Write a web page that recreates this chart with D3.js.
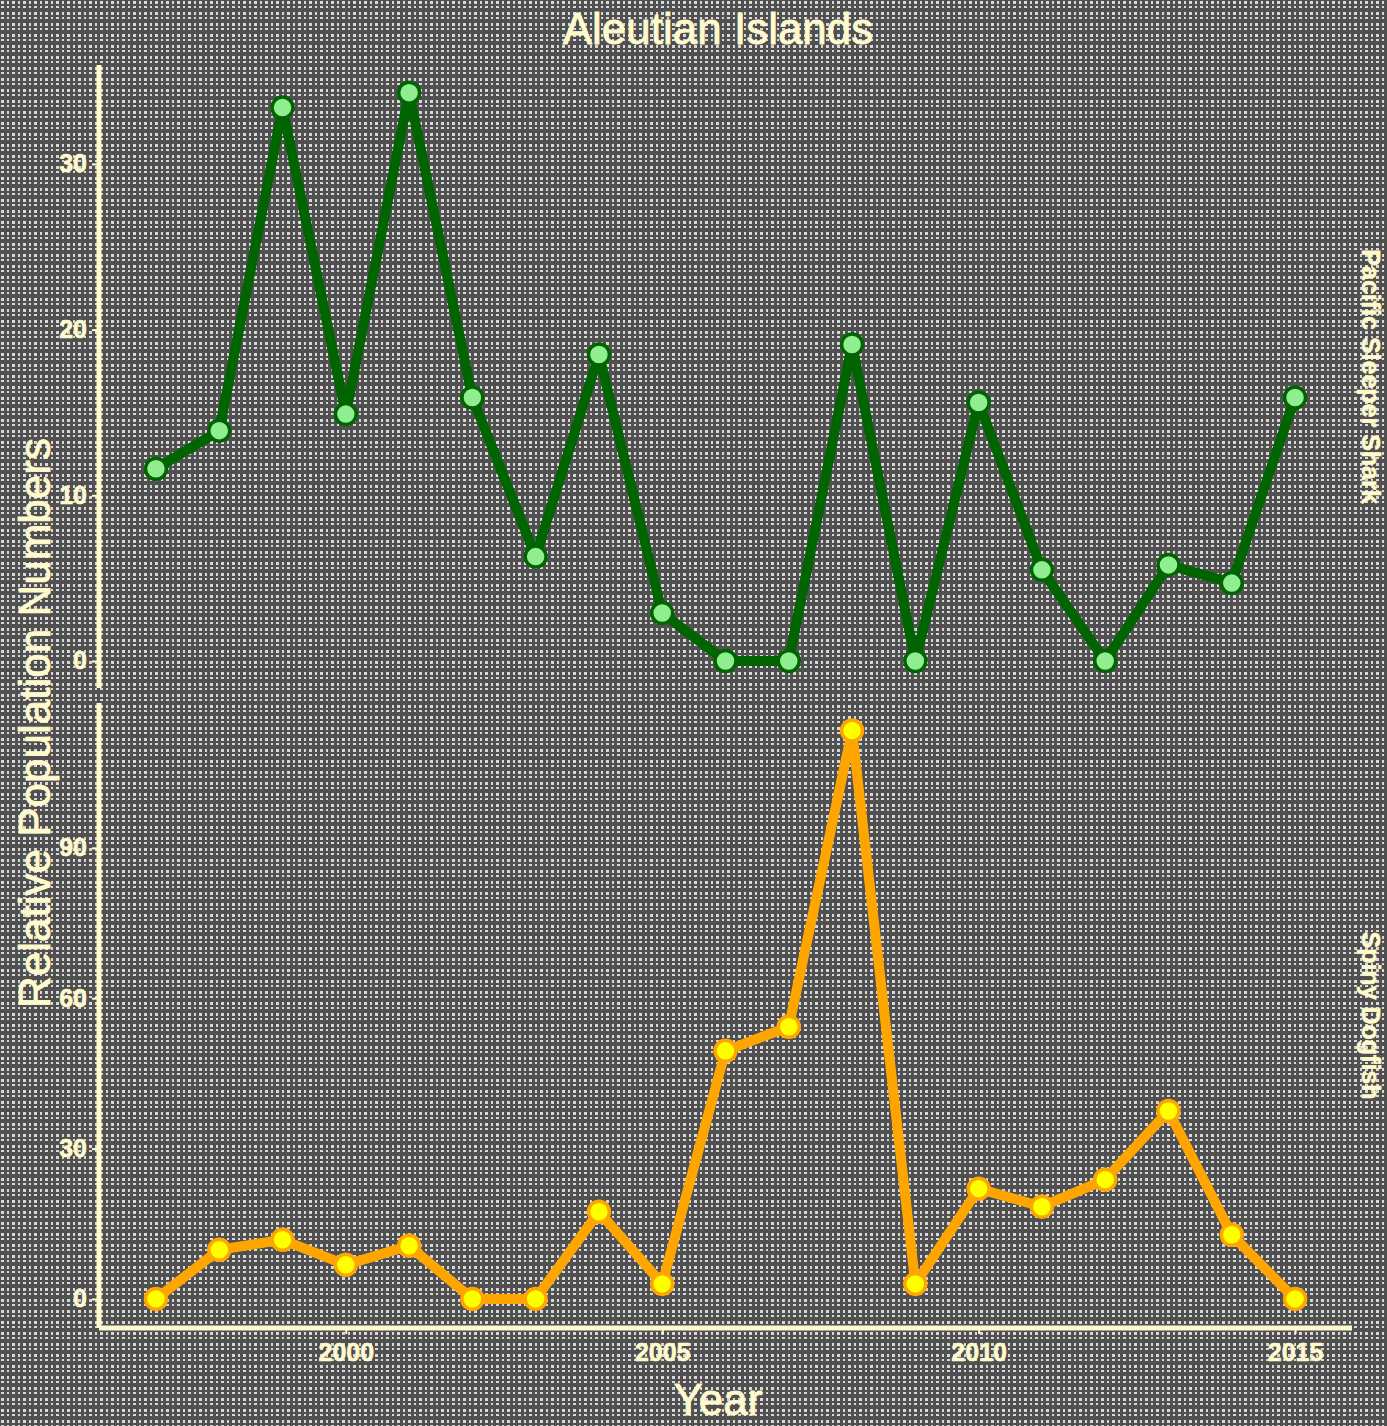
<!DOCTYPE html>
<html lang="en">
<head>
  <meta charset="UTF-8">
  <title>Aleutian Islands</title>
  <script src="https://d3js.org/d3.v7.min.js"></script>
</head>
<body style="margin: 0; overflow: hidden;">

<script>
  //Data
  const years = [1997, 1998, 1999, 2000, 2001, 2002, 2003, 2004, 2005, 2006, 2007, 2008, 2009, 2010, 2011, 2012, 2013, 2014, 2015];
  const sleeperShark = [11.6, 13.9, 33.4, 14.9, 34.3, 15.9, 6.3, 18.5, 2.9, 0, 0, 19.1, 0, 15.6, 5.5, 0, 5.8, 4.7, 15.9];
  const spinyDogfish = [0, 9.8, 11.8, 6.8, 10.6, 0, 0, 17.4, 3.0, 49.5, 54.3, 113.4, 3.0, 22.0, 18.4, 23.8, 37.5, 12.8, 0];
  const xTicks = [2000, 2005, 2010, 2015];
  const sharkTicks = [0, 10, 20, 30];
  const dogfishTicks = [0, 30, 60, 90];

  const W = 1387, H = 1426;
  const textColor = '#fffacd';
  const font = 'Liberation Sans, Arial, sans-serif';

  const svg = d3.select('body').append('svg')
    .attr('width', W)
    .attr('height', H);

  //Background: dark gray with a fine dotted grid
  const defs = svg.append('defs');
  const pat = defs.append('pattern')
    .attr('id', 'bg')
    .attr('width', 11)
    .attr('height', 11)
    .attr('patternUnits', 'userSpaceOnUse');
  pat.append('rect').attr('width', 11).attr('height', 11).attr('fill', '#505050');
  [[1, 1, 3, 3], [7, 1, 2, 3], [1, 6, 3, 2], [7, 6, 2, 2]].forEach(d => {
    pat.append('rect')
      .attr('x', d[0]).attr('y', d[1])
      .attr('width', d[2]).attr('height', d[3])
      .attr('fill', '#d8d8d8');
  });
  svg.append('rect').attr('width', W).attr('height', H).attr('fill', 'url(#bg)');

  const left = 99, right = 1352;

  const x = d3.scaleLinear()
    .domain([1996.1, 2015.9])
    .range([left, right]);

  const panels = [
    { name: 'Pacific Sleeper Shark', values: sleeperShark, ticks: sharkTicks,
      domain: [-1.63, 35.97], top: 65, bottom: 688, line: '#006400', fill: '#90ee90', ring: '#006400' },
    { name: 'Spiny Dogfish', values: spinyDogfish, ticks: dogfishTicks,
      domain: [-5.8, 118.9], top: 703, bottom: 1328, line: '#ffa500', fill: '#ffff00', ring: '#ffa500' }
  ];

  const styleTicks = sel => {
    sel.select('.domain').remove();
    sel.selectAll('.tick line').attr('stroke', textColor).attr('stroke-width', 2);
    sel.selectAll('.tick text')
      .attr('fill', textColor)
      .attr('stroke', textColor)
      .attr('stroke-width', 0.6)
      .style('font-family', font)
      .style('font-size', '25px')
      .style('font-weight', 'bold');
  };

  panels.forEach(p => {
    const y = d3.scaleLinear().domain(p.domain).range([p.bottom, p.top]);
    const g = svg.append('g');

    //Y axis
    g.append('g')
      .attr('transform', `translate(${left},0)`)
      .call(d3.axisLeft(y).tickValues(p.ticks).tickSize(7).tickPadding(5).tickFormat(d3.format('d')))
      .call(styleTicks);
    g.append('line')
      .attr('x1', left).attr('x2', left)
      .attr('y1', p.top).attr('y2', p.bottom)
      .attr('stroke', textColor)
      .attr('stroke-width', 5);

    //Line + points
    const pts = years.map((yr, i) => [yr, p.values[i]]);
    g.append('path')
      .datum(pts)
      .attr('fill', 'none')
      .attr('stroke', p.line)
      .attr('stroke-width', 10)
      .attr('stroke-linejoin', 'round')
      .attr('d', d3.line().x(d => x(d[0])).y(d => y(d[1])));
    g.selectAll('circle')
      .data(pts)
      .join('circle')
      .attr('cx', d => x(d[0]))
      .attr('cy', d => y(d[1]))
      .attr('r', 10.5)
      .attr('fill', p.fill)
      .attr('stroke', p.ring)
      .attr('stroke-width', 3.5);

    //Strip label on the right
    const cy = (p.top + p.bottom) / 2;
    svg.append('text')
      .attr('transform', `translate(1362,${cy}) rotate(90)`)
      .attr('text-anchor', 'middle')
      .attr('fill', textColor)
      .attr('stroke', textColor)
      .attr('stroke-width', 0.6)
      .style('font-family', font)
      .style('font-size', '25px')
      .style('font-weight', 'bold')
      .text(p.name);
  });

  //X axis at the bottom
  svg.append('g')
    .attr('transform', 'translate(0,1328)')
    .call(d3.axisBottom(x).tickValues(xTicks).tickSize(6).tickPadding(9).tickFormat(d3.format('d')))
    .call(styleTicks);
  svg.append('line')
    .attr('x1', left).attr('x2', right)
    .attr('y1', 1328).attr('y2', 1328)
    .attr('stroke', textColor)
    .attr('stroke-width', 5);

  //Titles
  const bigText = (sel, t) => sel
    .attr('text-anchor', 'middle')
    .attr('fill', textColor)
    .attr('stroke', textColor)
    .attr('stroke-width', 0.8)
    .style('font-family', font)
    .style('font-size', '44px')
    .text(t);

  svg.append('text')
    .attr('x', 718).attr('y', 44)
    .call(bigText, 'Aleutian Islands');

  svg.append('text')
    .attr('x', 718).attr('y', 1415)
    .call(bigText, 'Year');

  svg.append('text')
    .attr('transform', 'translate(50,723) rotate(-90)')
    .call(bigText, 'Relative Population Numbers');
</script>

</body>
</html>
